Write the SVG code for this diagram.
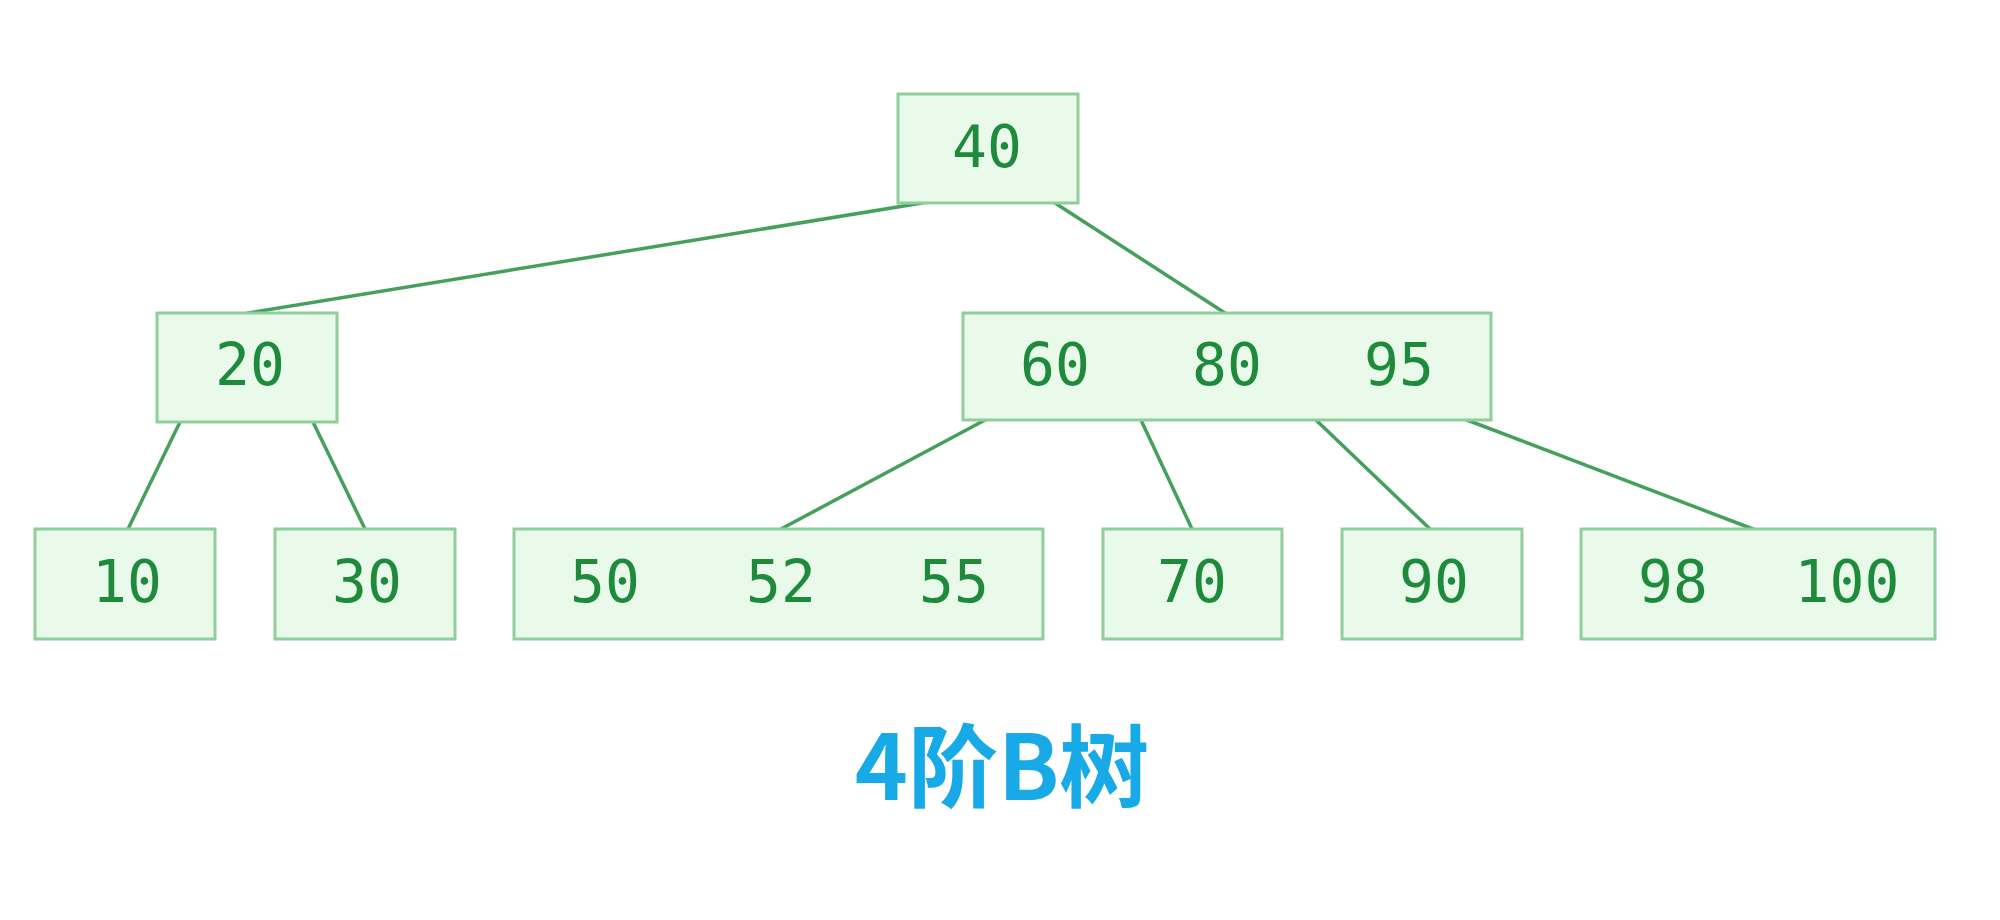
<svg xmlns="http://www.w3.org/2000/svg" width="2000" height="920" viewBox="0 0 2000 920">
<style>
.box{fill:#e9f9ea;stroke:#8fcf9a;stroke-width:3}
.num{font-family:"DejaVu Sans Mono","Liberation Mono",monospace;font-size:58px;fill:#1e8a3c;text-anchor:middle}
.edge{stroke:#45a05c;stroke-width:3.5;fill:none;stroke-linecap:round}
.title{font-family:"Noto Sans CJK SC","Noto Sans",sans-serif;font-size:90px;font-weight:bold;fill:#18aae6;text-anchor:middle}
</style>
<rect width="2000" height="920" fill="#ffffff"/>
<g id="connectors">
<line class="edge" x1="922" y1="203" x2="248" y2="313"/>
<line class="edge" x1="1055" y1="203" x2="1225" y2="313"/>
<line class="edge" x1="180" y1="422" x2="128" y2="529"/>
<line class="edge" x1="313" y1="422" x2="365" y2="529"/>
<line class="edge" x1="985" y1="420" x2="781" y2="529"/>
<line class="edge" x1="1141" y1="420" x2="1192" y2="529"/>
<line class="edge" x1="1316" y1="420" x2="1430" y2="529"/>
<line class="edge" x1="1467" y1="420" x2="1753" y2="529"/>
</g>
<g id="node-40">
<rect class="box" x="898" y="94" width="180" height="109"/>
<text class="num" x="987" y="167">40</text>
</g>
<g id="node-20">
<rect class="box" x="157" y="313" width="180" height="109"/>
<text class="num" x="250" y="385">20</text>
</g>
<g id="node-60-80-95">
<rect class="box" x="963" y="313" width="528" height="107"/>
<text class="num" x="1055" y="385">60</text>
<text class="num" x="1227" y="385">80</text>
<text class="num" x="1399" y="385">95</text>
</g>
<g id="node-10">
<rect class="box" x="35" y="529" width="180" height="110"/>
<text class="num" x="127" y="602">10</text>
</g>
<g id="node-30">
<rect class="box" x="275" y="529" width="180" height="110"/>
<text class="num" x="367" y="602">30</text>
</g>
<g id="node-50-52-55">
<rect class="box" x="514" y="529" width="529" height="110"/>
<text class="num" x="605" y="602">50</text>
<text class="num" x="781" y="602">52</text>
<text class="num" x="954" y="602">55</text>
</g>
<g id="node-70">
<rect class="box" x="1103" y="529" width="179" height="110"/>
<text class="num" x="1192" y="602">70</text>
</g>
<g id="node-90">
<rect class="box" x="1342" y="529" width="180" height="110"/>
<text class="num" x="1434" y="602">90</text>
</g>
<g id="node-98-100">
<rect class="box" x="1581" y="529" width="354" height="110"/>
<text class="num" x="1673" y="602">98</text>
<text class="num" x="1847" y="602">100</text>
</g>
<text class="title" x="1002" y="800">4阶B树</text>
</svg>
